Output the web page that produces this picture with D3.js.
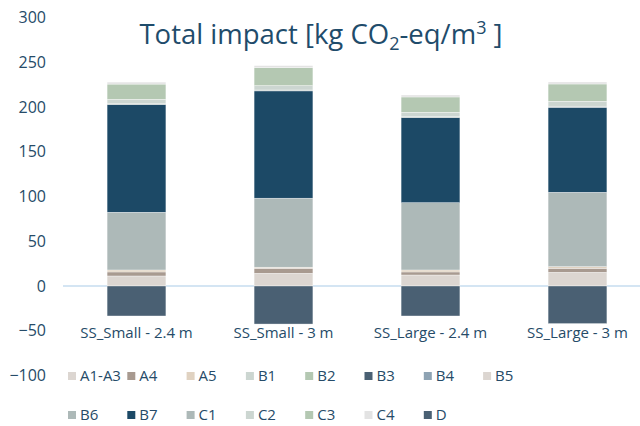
<!DOCTYPE html>
<html>
<head>
<meta charset="utf-8">
<script src="https://cdn.jsdelivr.net/npm/d3@7"></script>
<style>
  html, body { margin: 0; padding: 0; background: #fff; }
  svg { display: block; }
</style>
</head>
<body>
<div id="chart"></div>
<script>
// Life-cycle stages (stack order, bottom to top) and their fill colours
const stages = ["A1-A3", "A4", "A5", "B1", "B2", "B3", "B4", "B5", "B6", "B7", "C1", "C2", "C3", "C4", "D"];
const stageColors = ["#dcd6d1", "#a89a90", "#e0d2c1", "#ccd6d1", "#b4c8b2", "#4a6073", "#8ea3b3", "#dcd6d1",
                     "#adb9b8", "#1c4966", "#adb9b8", "#ccd6d1", "#b4c8b2", "#e3e3e3", "#4a6073"];

// Building variants
const variants = ["SS_Small - 2.4 m", "SS_Small - 3 m", "SS_Large - 2.4 m", "SS_Large - 3 m"];

// Impact per stage for each variant [kg CO2-eq/m3]
const valA1A3 = [11.2, 14.2, 12.3, 15.3];
const valA4   = [4.5, 5.6, 3.4, 4.5];
const valA5   = [2.2, 1.2, 2.2, 1.8];
const valB1   = [0, 0, 0, 0];
const valB2   = [0, 0, 0, 0];
const valB3   = [0, 0, 0, 0];
const valB4   = [0, 0, 0, 0];
const valB5   = [0, 0, 0, 0];
const valB6   = [64.5, 77.1, 75.2, 83.1];
const valB7   = [120.2, 119.9, 95.0, 95.0];
const valC1   = [1.0, 1.0, 1.0, 1.2];
const valC2   = [5.0, 4.9, 5.0, 5.5];
const valC3   = [17.0, 20.1, 17.1, 19.3];
const valC4   = [2.2, 2.2, 2.2, 2.2];
const valD    = [-33.5, -42.5, -33.5, -42.0];

const yTicks = [-100, -50, 0, 50, 100, 150, 200, 250, 300];

const seriesValues = [valA1A3, valA4, valA5, valB1, valB2, valB3, valB4, valB5,
                      valB6, valB7, valC1, valC2, valC3, valC4, valD];

const W = 640, H = 426;
const textColor = "#264b68";
const font = "'Open Sans', 'Noto Sans', sans-serif";

const svg = d3.select("#chart").append("svg")
  .attr("width", W).attr("height", H);

// Scales
const x = d3.scaleBand().domain(variants).range([63, 651]).paddingInner(0.6).paddingOuter(0.3);
const y = d3.scaleLinear().domain([-100, 300]).range([375.5, 17.5]);

// Table of rows for d3.stack
const rows = variants.map((v, i) => {
  const r = { variant: v };
  stages.forEach((s, k) => { r[s] = seriesValues[k][i]; });
  return r;
});
const stacked = d3.stack().keys(stages).offset(d3.stackOffsetDiverging)(rows);
const color = d3.scaleOrdinal().domain(stages).range(stageColors);

// Title
const title = svg.append("text")
  .attr("x", 321).attr("y", 44)
  .attr("text-anchor", "middle")
  .attr("font-family", font).attr("font-size", 27.5)
  .attr("fill", "#1f4c6b");
title.append("tspan").text("Total impact [kg CO");
title.append("tspan").attr("font-size", 18).attr("dy", 6).text("2");
title.append("tspan").attr("dy", -6).text("-eq/m");
title.append("tspan").attr("font-size", 18).attr("dy", -10).text("3");
title.append("tspan").attr("dy", 10).text(" ]");

// Y axis labels (no line, no ticks)
const yAxis = svg.append("g")
  .attr("transform", "translate(46,0)")
  .call(d3.axisLeft(y).tickValues(yTicks).tickSize(0).tickPadding(0).tickFormat(d3.format("d")));
yAxis.select(".domain").remove();
yAxis.selectAll("text")
  .attr("font-family", font).attr("font-size", 16)
  .attr("fill", textColor);

// Zero baseline
svg.append("line")
  .attr("x1", 63).attr("x2", 651)
  .attr("y1", y(0)).attr("y2", y(0))
  .attr("stroke", "#c6dcef").attr("stroke-width", 1.5);

// Stacked bars
svg.append("g").selectAll("g")
  .data(stacked)
  .join("g")
  .attr("fill", d => color(d.key))
  .selectAll("rect")
  .data(d => d)
  .join("rect")
  .attr("x", d => x(d.data.variant))
  .attr("width", x.bandwidth())
  .attr("y", d => y(Math.max(d[0], d[1])))
  .attr("height", d => Math.abs(y(d[0]) - y(d[1])))
  .attr("stroke", "#ffffff").attr("stroke-width", 0.5).attr("stroke-opacity", 0.7);

// Category labels below the bars
svg.append("g").selectAll("text")
  .data(variants)
  .join("text")
  .attr("x", d => x(d) + x.bandwidth() / 2)
  .attr("y", 338)
  .attr("text-anchor", "middle")
  .attr("font-family", font).attr("font-size", 15)
  .attr("fill", textColor)
  .text(d => d);

// Legend: two rows of eight columns
const legend = svg.append("g");
const colStep = 59.3;
const items = legend.selectAll("g")
  .data(stages)
  .join("g")
  .attr("transform", (d, i) => {
    const col = i % 8, row = Math.floor(i / 8);
    return `translate(${68 + col * colStep},${row === 0 ? 376 : 415})`;
  });
items.append("rect")
  .attr("x", 0).attr("y", -4).attr("width", 8).attr("height", 8)
  .attr("fill", d => color(d));
items.append("text")
  .attr("x", 12).attr("y", 0).attr("dy", "0.35em")
  .attr("font-family", font).attr("font-size", 15)
  .attr("fill", textColor)
  .text(d => d);
</script>
</body>
</html>
